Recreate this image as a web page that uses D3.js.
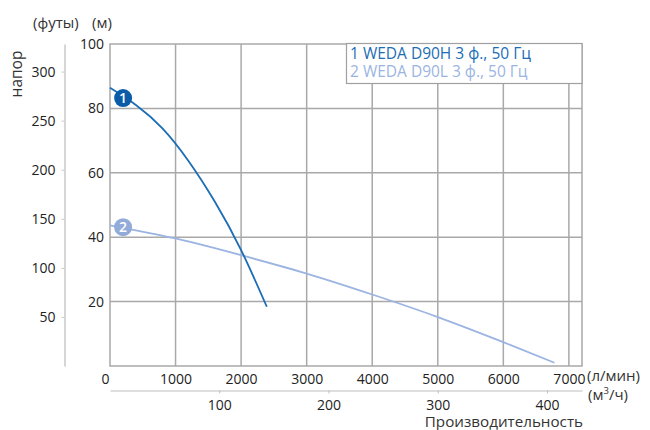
<!DOCTYPE html>
<html><head><meta charset="utf-8">
<script src="https://cdn.jsdelivr.net/npm/d3@7"></script>
<style>
body{margin:0;background:#fff;}
svg{display:block;font-family:"Open Sans",sans-serif;}
</style></head>
<body><svg id="c" width="650" height="430"></svg>
<script>
const flowTicks = [0,1000,2000,3000,4000,5000,6000,7000];
const headTicks = [20,40,60,80,100];
const feetTicks = [50,100,150,200,250,300];
const m3hTicks = [100,200,300,400];
const s1Flow = [0,400,800,1200,1600,2000,2392];
const s1Head = [86.4,81.0,73.8,63.6,51.0,36.0,18.4];
const s2Flow = [0,1000,2000,3000,4000,5000,6000,6780];
const s2Head = [43.7,39.6,34.4,28.7,22.2,15.2,7.4,1.0];
const seriesNames = ["1 WEDA D90H 3 ф., 50 Гц","2 WEDA D90L 3 ф., 50 Гц"];
const markerFlow = [200,200];
const markerHead = [83.2,43.1];
const colors = ["#1b6db6","#9bb4e2"];
const markerFill = ["#0b5ca8","#93abd9"];

const svg = d3.select("#c");
const L=110,R=582,T=44,B=366;
const x = d3.scaleLinear().domain([0,7200]).range([L,R]);
const y = d3.scaleLinear().domain([0,100]).range([B,T]);
const yFt = d3.scaleLinear().domain([0,100*3.28084]).range([B,T]);
const xM3 = d3.scaleLinear().domain([0,7200*0.06]).range([L,R]);
const gridC="#a9a9a9";
const fmt = d3.format("d");

// grid
svg.append("g").selectAll("line").data(headTicks.slice(0,4)).join("line")
  .attr("x1",L).attr("x2",R).attr("y1",d=>y(d)).attr("y2",d=>y(d))
  .attr("stroke",gridC).attr("stroke-width",1.5);
svg.append("g").selectAll("line").data(flowTicks.slice(1)).join("line")
  .attr("y1",T).attr("y2",B).attr("x1",d=>x(d)).attr("x2",d=>x(d))
  .attr("stroke",gridC).attr("stroke-width",1.5);
svg.append("rect").attr("x",L).attr("y",T).attr("width",R-L).attr("height",B-T)
  .attr("fill","none").attr("stroke",gridC).attr("stroke-width",1.5);

// m axis labels
const ax = svg.append("g").attr("transform",`translate(${L-6},0)`)
  .call(d3.axisLeft(y).tickValues(headTicks).tickFormat(fmt).tickSize(0).tickPadding(0));
ax.select(".domain").remove();
ax.selectAll("text").attr("font-size",14).attr("fill","#222").attr("font-family","Open Sans");

// feet axis
const af = svg.append("g").attr("transform",`translate(64.5,0)`)
  .call(d3.axisLeft(yFt).tickValues(feetTicks).tickFormat(fmt).tickSize(3).tickSizeOuter(0).tickPadding(6));
af.select(".domain").attr("stroke","#c8c8c8").attr("stroke-width",1.5);
af.selectAll(".tick line").attr("stroke","#c8c8c8");
af.selectAll("text").attr("font-size",14).attr("fill","#222").attr("font-family","Open Sans");

// flow axis labels (l/min)
const axb = svg.append("g").attr("transform",`translate(0,${B+8})`)
  .call(d3.axisBottom(x).tickValues(flowTicks).tickFormat(fmt).tickSize(0).tickPadding(0));
axb.select(".domain").remove();
axb.selectAll("text").attr("font-size",14).attr("fill","#222").attr("font-family","Open Sans")
  .attr("dx",d=>d===0?-5:0);

// m3/h axis
const am = svg.append("g").attr("transform",`translate(0,390.5)`)
  .call(d3.axisBottom(xM3).tickValues(m3hTicks).tickFormat(fmt).tickSize(3).tickSizeOuter(0).tickPadding(7));
am.select(".domain").attr("stroke","#bdbdbd").attr("stroke-width",1.2);
am.selectAll(".tick line").attr("stroke","#bdbdbd");
am.selectAll("text").attr("font-size",14).attr("fill","#222").attr("font-family","Open Sans");

// unit labels
const tx=(t,xx,yy,anchor,fs)=>svg.append("text").attr("x",xx).attr("y",yy)
  .attr("font-size",fs||14).attr("fill","#333").attr("text-anchor",anchor||"start").text(t);
tx("(футы)",33,28,"start",15);
tx("(м)",92,28,"start",15);
svg.append("text").attr("transform","translate(22,74) rotate(-90)").attr("text-anchor","middle")
  .attr("font-size",15.5).attr("fill","#333").text("напор");
tx("(л/мин)",587,381,"start",15);
const m3 = svg.append("text").attr("x",588).attr("y",400).attr("font-size",15).attr("fill","#333");
m3.append("tspan").text("(м");
m3.append("tspan").attr("font-size",9.5).attr("dy",-6).text("3");
m3.append("tspan").attr("dy",6).text("/ч)");
tx("Производительность",583,427,"end",15.2);

// curves
const line = d3.line().x(d=>x(d[0])).y(d=>y(d[1])).curve(d3.curveNatural);
const s1 = s1Flow.map((f,i)=>[f,s1Head[i]]);
const s2 = s2Flow.map((f,i)=>[f,s2Head[i]]);
svg.append("path").attr("d",line(s2)).attr("fill","none").attr("stroke",colors[1]).attr("stroke-width",1.8);
svg.append("path").attr("d",line(s1)).attr("fill","none").attr("stroke",colors[0]).attr("stroke-width",1.8);

// markers
[0,1].forEach(i=>{
  const g=svg.append("g").attr("transform",`translate(${x(markerFlow[i])},${y(markerHead[i])})`);
  g.append("circle").attr("r",9).attr("fill",markerFill[i]);
  g.append("text").attr("text-anchor","middle").attr("dy","0.36em").attr("font-size",14)
   .attr("font-weight",600).attr("fill","#fff").text(String(i+1));
});

// legend
svg.append("rect").attr("x",346.5).attr("y",43.5).attr("width",235.5).attr("height",40)
  .attr("fill","#fff").attr("stroke","#a0a0a0").attr("stroke-width",1.2);
seriesNames.forEach((n,i)=>{
  svg.append("text").attr("x",350).attr("y",59+i*18).attr("font-size",15.5)
    .attr("fill",colors[i]).text(n);
});
</script></body></html>
